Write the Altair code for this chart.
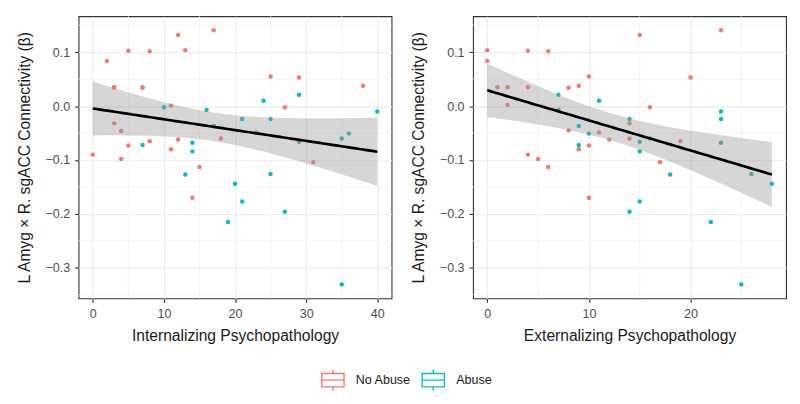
import altair as alt
import numpy as np
import pandas as pd

# ---------------- data ----------------
int_noabuse_x = [0, 2, 3, 3, 3, 4, 4, 5, 5, 7, 7, 8, 8, 11, 11, 12, 12, 13, 14, 15, 17, 18, 23, 25, 27, 29, 31, 38]
int_noabuse_y = [-0.090, 0.084, 0.035, 0.035, -0.032, -0.046, -0.098, 0.103, -0.073, 0.035, 0.034, 0.102, -0.065,
                 0.001, -0.080, 0.132, -0.062, 0.104, -0.170, -0.113, 0.141, -0.060, -0.049, 0.055, -0.002, 0.053,
                 -0.104, 0.038]
int_abuse_x = [7, 10, 13, 14, 14, 16, 17, 19, 20, 21, 21, 24, 25, 25, 27, 29, 29, 35, 35, 36, 40]
int_abuse_y = [-0.072, -0.002, -0.127, -0.068, -0.084, -0.007, -0.037, -0.215, -0.144, -0.024, -0.177, 0.010,
               -0.024, -0.126, -0.196, 0.021, -0.066, -0.060, -0.331, -0.051, -0.010]

ext_noabuse_x = [0, 0, 1, 2, 2, 4, 4, 4, 5, 6, 6, 8, 8, 9, 9, 10, 10, 10, 11, 12, 14, 14, 15, 16, 17, 19, 20, 23]
ext_noabuse_y = [0.104, 0.084, 0.035, 0.035, 0.002, 0.103, 0.035, -0.090, -0.098, 0.102, -0.113, 0.034, -0.045,
                 0.038, -0.080, 0.055, -0.073, -0.170, -0.049, -0.062, -0.032, -0.060, 0.132, -0.002, -0.104,
                 -0.065, 0.053, 0.141]
ext_abuse_x = [7, 7, 9, 9, 10, 11, 14, 14, 15, 15, 15, 16, 18, 22, 23, 23, 23, 25, 26, 28]
ext_abuse_y = [0.021, -0.007, -0.037, -0.072, -0.051, 0.010, -0.024, -0.196, -0.066, -0.084, -0.177, -0.060,
               -0.127, -0.215, -0.010, -0.024, -0.068, -0.331, -0.126, -0.144]

groups = ["No Abuse", "Abuse"]
group_colors = ["#F8766D", "#00BFC4"]

y_title = "L Amyg \u00d7 R. sgACC Connectivity (\u03b2)"
y_ticks = [-0.3, -0.2, -0.1, 0.0, 0.1]
y_minor = [-0.35, -0.25, -0.15, -0.05, 0.05, 0.15]
int_ticks = [0, 10, 20, 30, 40]
int_minor = [5, 15, 25, 35]
ext_ticks = [0, 10, 20]
ext_minor = [5, 15, 25]

FONT = "Liberation Sans"
W, H = 315, 284


def points_df(xa, ya, xb, yb):
    return pd.DataFrame({
        "x": list(xa) + list(xb),
        "y": list(ya) + list(yb),
        "group": [groups[0]] * len(xa) + [groups[1]] * len(xb),
    })


def fit_df(df):
    x = df["x"].to_numpy(float)
    y = df["y"].to_numpy(float)
    n = len(x)
    b1, b0 = np.polyfit(x, y, 1)
    xs = np.linspace(x.min(), x.max(), 80)
    yhat = b0 + b1 * xs
    resid = y - (b0 + b1 * x)
    s = np.sqrt(np.sum(resid ** 2) / (n - 2))
    sxx = np.sum((x - x.mean()) ** 2)
    se = s * np.sqrt(1.0 / n + (xs - x.mean()) ** 2 / sxx)
    z = 1.959964
    df_ = n - 2
    t = z + (z ** 3 + z) / (4 * df_) + (5 * z ** 5 + 16 * z ** 3 + 3 * z) / (96 * df_ ** 2)
    return pd.DataFrame({"x": xs, "fit": yhat, "lo": yhat - t * se, "hi": yhat + t * se})


legend_path = "M-1,-0.6L1,-0.6L1,0.6L-1,0.6Z M-1,0L1,0 M0,-0.6L0,-0.95 M0,0.6L0,0.95"

legend = alt.Legend(
    orient="none", legendX=244, legendY=354, direction="horizontal", title=None,
    symbolType=legend_path, symbolSize=500, symbolStrokeWidth=1.4,
    symbolFillColor="transparent", symbolOpacity=1,
    labelFont=FONT, labelFontSize=12.6, labelColor="#1a1a1a",
    columnPadding=8, labelOffset=11,
)

# fill scale listed in reverse order (same colour per group) so that its
# disabled legend is not merged with the stroke legend below
fill_scale = alt.Scale(domain=groups[::-1], range=group_colors[::-1])
stroke_scale = alt.Scale(domain=groups, range=group_colors)


def panel(df, x_title, x_domain, x_ticks, x_minor, with_legend):
    xs = alt.Scale(domain=x_domain, nice=False, zero=False)
    ys = alt.Scale(domain=[-0.357, 0.167], nice=False, zero=False)
    xax = alt.Axis(values=x_ticks, title=x_title, format="d")
    yax = alt.Axis(values=y_ticks, title=y_title, format=".1f")

    minor_x = alt.Chart(pd.DataFrame({"v": x_minor})).mark_rule(
        color="#f2f2f2", strokeWidth=0.8
    ).encode(x=alt.X("v:Q", scale=xs, axis=xax))
    minor_y = alt.Chart(pd.DataFrame({"v": y_minor})).mark_rule(
        color="#f2f2f2", strokeWidth=0.8
    ).encode(y=alt.Y("v:Q", scale=ys, axis=yax))

    pts = alt.Chart(df).mark_circle(size=20, opacity=1).encode(
        x=alt.X("x:Q", scale=xs, axis=xax),
        y=alt.Y("y:Q", scale=ys, axis=yax),
        fill=alt.Fill("group:N", scale=fill_scale, legend=None),
    )
    layers = [minor_x, minor_y, pts]
    if with_legend:
        # legend-only layer (no marks drawn): outlined glyphs keyed to the groups
        key = alt.Chart(df).transform_filter("datum.x < -1000").mark_point(
            filled=False, opacity=1
        ).encode(
            x=alt.X("x:Q", scale=xs, axis=xax),
            y=alt.Y("y:Q", scale=ys, axis=yax),
            stroke=alt.Stroke("group:N", scale=stroke_scale, sort=groups, legend=legend),
        )
        layers.append(key)
    f = fit_df(df)
    band = alt.Chart(f).mark_area(color="#999999", opacity=0.4).encode(
        x=alt.X("x:Q", scale=xs, axis=xax),
        y=alt.Y("lo:Q", scale=ys, axis=yax),
        y2="hi:Q",
    )
    line = alt.Chart(f).mark_line(color="black", strokeWidth=2.7).encode(
        x=alt.X("x:Q", scale=xs, axis=xax),
        y=alt.Y("fit:Q", scale=ys, axis=yax),
    )
    layers += [band, line]
    return alt.layer(*layers).properties(width=W, height=H)


df_int = points_df(int_noabuse_x, int_noabuse_y, int_abuse_x, int_abuse_y)
df_ext = points_df(ext_noabuse_x, ext_noabuse_y, ext_abuse_x, ext_abuse_y)

left = panel(df_int, "Internalizing Psychopathology", [-2, 42], int_ticks, int_minor, True)
right = panel(df_ext, "Externalizing Psychopathology", [-1.4, 29.4], ext_ticks, ext_minor, False)

chart = alt.hconcat(left, right, spacing=17).resolve_scale(
    x="independent", y="independent"
).properties(
    padding={"left": 7, "top": 6, "right": 5, "bottom": 5},
    background="white",
).configure_view(
    stroke="#333333", strokeWidth=1.1
).configure_axis(
    labelFont=FONT, titleFont=FONT,
    labelFontSize=12.6, titleFontSize=15.7,
    labelColor="#4d4d4d", titleColor="#1a1a1a", titleFontWeight="normal",
    tickColor="#333333", tickSize=4, tickWidth=1.1,
    labelPadding=5, domain=False,
    gridColor="#ebebeb", gridWidth=1.1,
).configure_axisY(
    titlePadding=13,
).configure_axisX(
    titlePadding=9,
)

chart.save("out.html", embed_options={"renderer": "svg", "actions": False})
